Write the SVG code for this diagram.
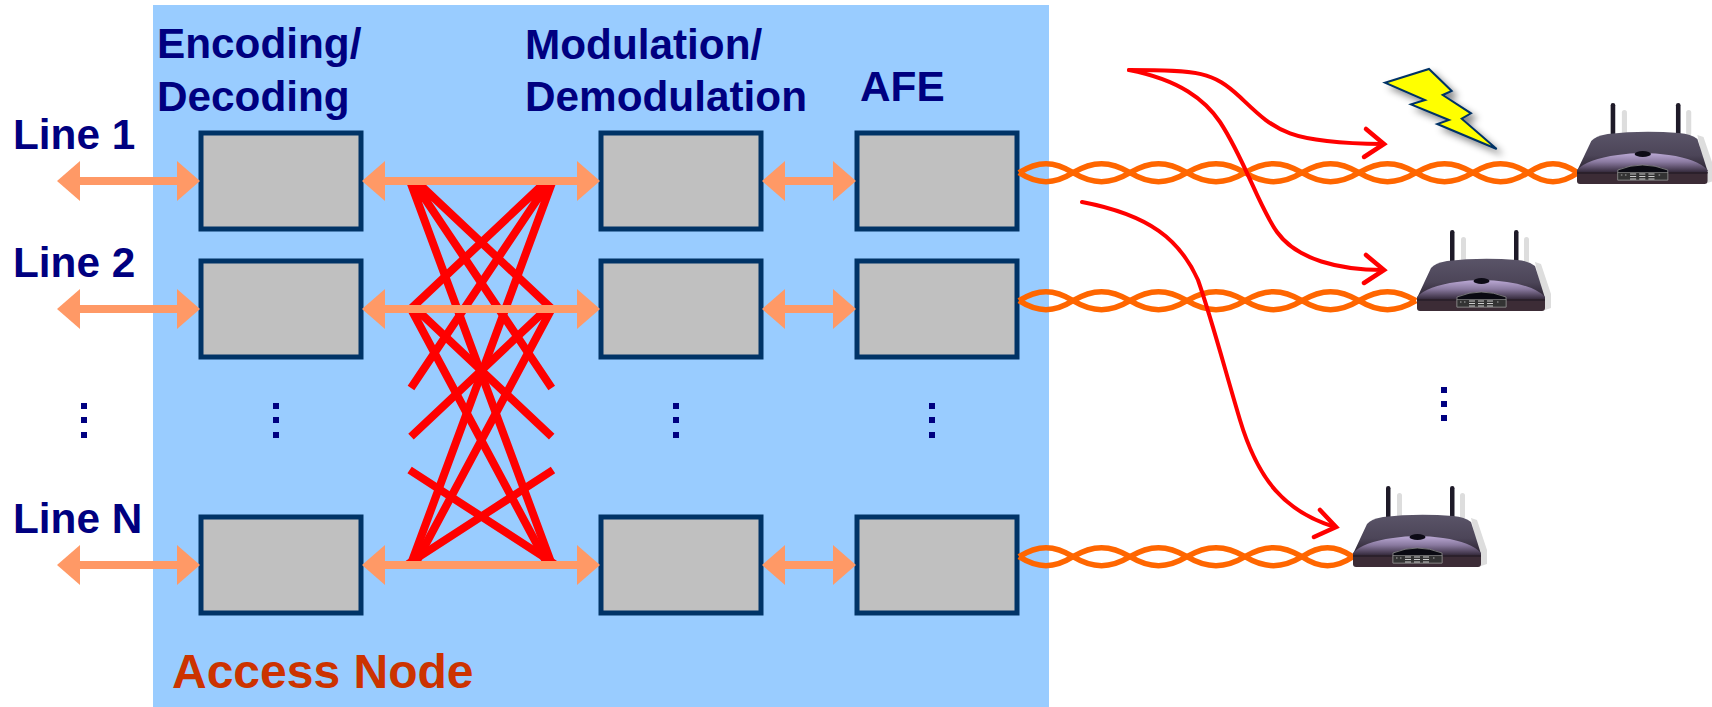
<svg xmlns="http://www.w3.org/2000/svg" width="1712" height="707" viewBox="0 0 1712 707">
<style>
.box{fill:#C0C0C0;stroke:#003366;stroke-width:5}
.lbl{font-family:"Liberation Sans",Arial,sans-serif;font-weight:700;font-size:42.300px;fill:#000080}
.dot{fill:#000080}
.arr{fill:none;stroke:#FF9966;stroke-width:8;marker-start:url(#head);marker-end:url(#head)}
.x{stroke:#FF0000;stroke-width:8;fill:none}
.tw{fill:none;stroke:#FF6600;stroke-width:5.500}
.sig{fill:none;stroke:#FF0000;stroke-width:4;stroke-linecap:round}
.sigh{fill:none;stroke:#FF0000;stroke-width:4.500;stroke-linecap:round;stroke-linejoin:miter}
</style>
<defs>
<marker id="head" markerUnits="userSpaceOnUse" markerWidth="24" markerHeight="42" refX="3" refY="21" orient="auto-start-reverse"><path d="M0,1 L23,21 L0,41 Z" fill="#FF9966"/></marker>
<linearGradient id="shell" x1="0" y1="0" x2="0" y2="1"><stop offset="0" stop-color="#5a5468"/><stop offset="0.6" stop-color="#4c4558"/><stop offset="1" stop-color="#2a2230"/></linearGradient>
<linearGradient id="lip" x1="0" y1="0" x2="0" y2="1"><stop offset="0" stop-color="#bcaad6"/><stop offset="0.45" stop-color="#8a7aa0"/><stop offset="1" stop-color="#2e2434"/></linearGradient>
<filter id="sh" x="-20%" y="-20%" width="150%" height="150%"><feDropShadow dx="5" dy="5" stdDeviation="3.500" flood-color="#000" flood-opacity="0.45"/></filter>
<g id="router">
<path d="M118,32 L124,34 L134,64 V78 L128,80 Z" fill="#dddddd"/>
<rect x="44" y="7" width="5" height="26" rx="2.500" fill="#dddddd"/>
<rect x="107" y="7" width="5" height="26" rx="2.500" fill="#dddddd"/>
<rect x="33" y="0" width="4.500" height="33" rx="2.200" fill="#1e1a28"/>
<rect x="97" y="0" width="4.500" height="33" rx="2.200" fill="#1e1a28"/>
<path d="M0,68 L14,38 Q18,33 30,31 Q64,27 100,30 Q112,31 118,36 L128,68 Z" fill="url(#shell)"/>
<path d="M0,67 Q10,56 40,52 Q64,48 90,52 Q118,56 128,67 L128,70 L0,70 Z" fill="url(#lip)"/>
<path d="M0,69 H128 V78 Q128,81 125,81 H3 Q0,81 0,78 Z" fill="#3c2c36"/>
<path d="M0,70 H128" stroke="#1a1420" stroke-width="1.200"/>
<ellipse cx="64.500" cy="51" rx="8" ry="3" fill="#0d0b16"/>
<path d="M40,77 V67 Q64,57 89,67 V77 Z" fill="#0a0a12" stroke="#8a8a8a" stroke-width="0.800"/>
<rect x="40" y="69.500" width="49" height="7.500" fill="#333333" stroke="#888888" stroke-width="0.700"/>
<path d="M52,71 h6 M61,71 h6 M70,71 h6 M52,73.500 h6 M61,73.500 h6 M70,73.500 h6 M52,76 h6 M61,76 h6 M70,76 h6" stroke="#dddddd" stroke-width="0.900"/>
<path d="M43,72 h1.500 M47,72 h1.500 M80,72 h1.500" stroke="#aaaaaa" stroke-width="1"/>
</g>
</defs>
<rect width="1712" height="707" fill="#ffffff"/>
<rect id="access-node" x="153" y="5" width="896" height="702" fill="#99CCFF"/>
<g id="enc-1"><rect class="box" x="201" y="133" width="160" height="96"/></g>
<g id="enc-2"><rect class="box" x="201" y="261" width="160" height="96"/></g>
<g id="enc-n"><rect class="box" x="201" y="517" width="160" height="96"/></g>
<g id="mod-1"><rect class="box" x="601" y="133" width="160" height="96"/></g>
<g id="mod-2"><rect class="box" x="601" y="261" width="160" height="96"/></g>
<g id="mod-n"><rect class="box" x="601" y="517" width="160" height="96"/></g>
<g id="afe-1"><rect class="box" x="857" y="133" width="160" height="96"/></g>
<g id="afe-2"><rect class="box" x="857" y="261" width="160" height="96"/></g>
<g id="afe-n"><rect class="box" x="857" y="517" width="160" height="96"/></g>
<g id="crosstalk">
<path class="x" d="M416,181 L552,309 M413,181 L551.700,388 M410,181 L552,565"/>
<path class="x" d="M546.600,181 L410.600,309 M549.600,181 L411,388 M552.600,181 L410.600,565"/>
<path class="x" d="M416,309 L551.700,436.700 M411,309 L548,565"/>
<path class="x" d="M546.600,309 L411,436.700 M551.600,309 L414.600,565"/>
<path class="x" d="M408,564 L553,470 M554.600,564 L409.600,470"/>
</g>
<g id="connectors">
<line class="arr" x1="77" y1="181" x2="180" y2="181"/>
<line class="arr" x1="77" y1="309" x2="180" y2="309"/>
<line class="arr" x1="77" y1="565" x2="180" y2="565"/>
<line class="arr" x1="382" y1="181" x2="580" y2="181"/>
<line class="arr" x1="382" y1="309" x2="580" y2="309"/>
<line class="arr" x1="382" y1="565" x2="580" y2="565"/>
<line class="arr" x1="782" y1="181" x2="836" y2="181"/>
<line class="arr" x1="782" y1="309" x2="836" y2="309"/>
<line class="arr" x1="782" y1="565" x2="836" y2="565"/>
<g id="twisted-pairs">
<path class="tw" d="M1019,172.700 c19,-12 35,-12 54,0 c20,12 37,12 57,0 c20,-12 37,-12 57,0 c20,12 38,12 58,0 c20,-12 37,-12 57,0 c20,12 37,12 57,0 c20,-12 37,-12 57,0 c20,12 37,12 57,0 c19,-12 36,-12 55,0 c18,12 32,12 50,0"/>
<path class="tw" d="M1019,172.700 c19,12 35,12 54,0 c20,-12 37,-12 57,0 c20,12 37,12 57,0 c20,-12 38,-12 58,0 c20,12 37,12 57,0 c20,-12 37,-12 57,0 c20,12 37,12 57,0 c20,-12 37,-12 57,0 c19,12 36,12 55,0 c18,-12 32,-12 50,0"/>
<path class="tw" d="M1019,300.700 c19,-12 35,-12 54,0 c20,12 37,12 57,0 c20,-12 37,-12 57,0 c20,12 38,12 58,0 c20,-12 37,-12 57,0 c20,12 37,12 57,0 c20,-12 37,-12 57,0"/>
<path class="tw" d="M1019,300.700 c19,12 35,12 54,0 c20,-12 37,-12 57,0 c20,12 37,12 57,0 c20,-12 38,-12 58,0 c20,12 37,12 57,0 c20,-12 37,-12 57,0 c20,12 37,12 57,0"/>
<path class="tw" d="M1019,556.700 c19,-12 35,-12 54,0 c20,12 37,12 57,0 c20,-12 37,-12 57,0 c20,12 38,12 58,0 c20,-12 37,-12 57,0 c18,12 33,12 51,0"/>
<path class="tw" d="M1019,556.700 c19,12 35,12 54,0 c20,-12 37,-12 57,0 c20,12 37,12 57,0 c20,-12 38,-12 58,0 c20,12 37,12 57,0 c18,-12 33,-12 51,0"/>
</g>
<g id="signals">
<path class="sig" d="M1129,70 C1200,70 1213,72 1240,97 C1275,130 1285,143 1383,144"/>
<path class="sigh" d="M1366,129 L1384,144 L1364,157"/>
<path class="sig" d="M1129,70 C1180,80 1205,100 1220,122 C1245,160 1258,205 1277,232 C1297,260 1340,270 1383,270"/>
<path class="sigh" d="M1366,255 L1384,270 L1364,283"/>
<path class="sig" d="M1082,202 C1150,215 1180,240 1198,280 C1212,320 1225,370 1240,420 C1258,480 1285,512 1335,527"/>
<path class="sigh" d="M1320,510 L1336,527 L1314,537"/>
</g>
</g>
<g id="labels">
<text class="lbl" x="157" y="58">Encoding/</text>
<text class="lbl" x="157" y="111">Decoding</text>
<text class="lbl" x="525" y="59">Modulation/</text>
<text class="lbl" x="525" y="111">Demodulation</text>
<text class="lbl" x="860" y="101">AFE</text>
<text class="lbl" x="13" y="149">Line 1</text>
<text class="lbl" x="13" y="277">Line 2</text>
<text class="lbl" x="13" y="533">Line N</text>
<text class="lbl" x="172" y="688" style="font-size:48px;fill:#CC3300">Access Node</text>
</g>
<g id="ellipses">
<path class="dot" d="M81,403h6v6h-6z M81,417h6v6h-6z M81,432h6v6h-6z M273,403h6v6h-6z M273,417h6v6h-6z M273,432h6v6h-6z M673,403h6v6h-6z M673,417h6v6h-6z M673,432h6v6h-6z M929,403h6v6h-6z M929,417h6v6h-6z M929,432h6v6h-6z M1441,387h6v6h-6z M1441,401h6v6h-6z M1441,415h6v6h-6z"/>
</g>
<g id="lightning"><path d="M1385,82.700 L1429,69 L1451.700,91 L1442.700,95 L1471,113.300 L1461.700,118.700 L1496.700,149 L1437.300,124 L1449,120 L1411,104.300 L1425,100 Z" fill="#FFFF00" stroke="#003366" stroke-width="2" filter="url(#sh)"/></g>
<g id="router-1"><use href="#router" transform="translate(1577 103) scale(1.020 1)"/></g>
<g id="router-2"><use href="#router" x="1417" y="230"/></g>
<g id="router-n"><use href="#router" x="1353" y="486"/></g>
</svg>
